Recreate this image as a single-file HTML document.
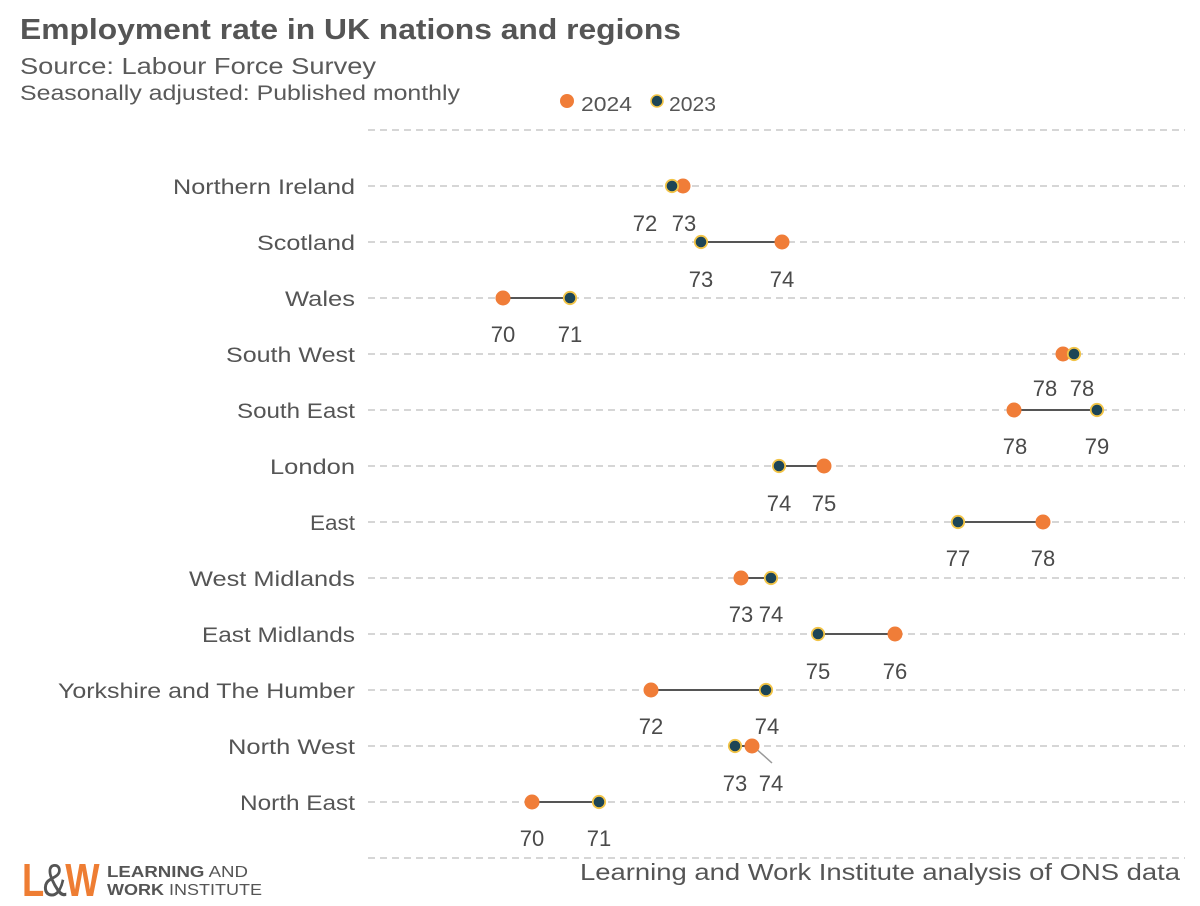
<!DOCTYPE html>
<html>
<head>
<meta charset="utf-8">
<style>
html,body{margin:0;padding:0;background:#fff;}
svg{display:block;}
text{font-family:"Liberation Sans",sans-serif;}
</style>
</head>
<body>
<svg width="1200" height="906" viewBox="0 0 1200 906" xmlns="http://www.w3.org/2000/svg">
<rect width="1200" height="906" fill="#fff"/>
<!-- Title -->
<text x="20" y="39" font-size="29" font-weight="bold" fill="#555" textLength="661" lengthAdjust="spacingAndGlyphs">Employment rate in UK nations and regions</text>
<text x="20" y="74" font-size="23" fill="#5a5a5a" textLength="356" lengthAdjust="spacingAndGlyphs">Source: Labour Force Survey</text>
<text x="20" y="100" font-size="21" fill="#5a5a5a" textLength="440" lengthAdjust="spacingAndGlyphs">Seasonally adjusted: Published monthly</text>
<!-- Legend -->
<circle cx="567" cy="101" r="7" fill="#F07D38"/>
<text x="581" y="111" font-size="20" fill="#555" textLength="51" lengthAdjust="spacingAndGlyphs">2024</text>
<circle cx="657" cy="101" r="6" fill="#1D4556" stroke="#F2C447" stroke-width="1.6"/>
<text x="669" y="111" font-size="20" fill="#555" textLength="47" lengthAdjust="spacingAndGlyphs">2023</text>
<!-- Gridlines -->
<g stroke="#c9c9c9" stroke-width="1.6" stroke-dasharray="7 5">
<line x1="368" y1="130" x2="1185" y2="130"/>
<line x1="368" y1="186" x2="1185" y2="186"/>
<line x1="368" y1="242" x2="1185" y2="242"/>
<line x1="368" y1="298" x2="1185" y2="298"/>
<line x1="368" y1="354" x2="1185" y2="354"/>
<line x1="368" y1="410" x2="1185" y2="410"/>
<line x1="368" y1="466" x2="1185" y2="466"/>
<line x1="368" y1="522" x2="1185" y2="522"/>
<line x1="368" y1="578" x2="1185" y2="578"/>
<line x1="368" y1="634" x2="1185" y2="634"/>
<line x1="368" y1="690" x2="1185" y2="690"/>
<line x1="368" y1="746" x2="1185" y2="746"/>
<line x1="368" y1="802" x2="1185" y2="802"/>
<line x1="368" y1="858" x2="1185" y2="858"/>
</g>
<!-- Category labels -->
<g font-size="21" fill="#555" text-anchor="end">
<text x="355" y="194" textLength="182" lengthAdjust="spacingAndGlyphs">Northern Ireland</text>
<text x="355" y="250" textLength="98" lengthAdjust="spacingAndGlyphs">Scotland</text>
<text x="355" y="306" textLength="70" lengthAdjust="spacingAndGlyphs">Wales</text>
<text x="355" y="362" textLength="129" lengthAdjust="spacingAndGlyphs">South West</text>
<text x="355" y="418" textLength="118" lengthAdjust="spacingAndGlyphs">South East</text>
<text x="355" y="474" textLength="85" lengthAdjust="spacingAndGlyphs">London</text>
<text x="355" y="530" textLength="45" lengthAdjust="spacingAndGlyphs">East</text>
<text x="355" y="586" textLength="166" lengthAdjust="spacingAndGlyphs">West Midlands</text>
<text x="355" y="642" textLength="153" lengthAdjust="spacingAndGlyphs">East Midlands</text>
<text x="355" y="698" textLength="297" lengthAdjust="spacingAndGlyphs">Yorkshire and The Humber</text>
<text x="355" y="754" textLength="127" lengthAdjust="spacingAndGlyphs">North West</text>
<text x="355" y="810" textLength="115" lengthAdjust="spacingAndGlyphs">North East</text>
</g>
<!-- Connectors -->
<g stroke="#555" stroke-width="2">
<line x1="672" y1="186" x2="683" y2="186"/>
<line x1="701" y1="242" x2="782" y2="242"/>
<line x1="503" y1="298" x2="570" y2="298"/>
<line x1="1063" y1="354" x2="1074" y2="354"/>
<line x1="1014" y1="410" x2="1097" y2="410"/>
<line x1="779" y1="466" x2="824" y2="466"/>
<line x1="958" y1="522" x2="1043" y2="522"/>
<line x1="741" y1="578" x2="771" y2="578"/>
<line x1="818" y1="634" x2="895" y2="634"/>
<line x1="651" y1="690" x2="766" y2="690"/>
<line x1="735" y1="746" x2="752" y2="746"/>
<line x1="532" y1="802" x2="599" y2="802"/>
</g>
<!-- leader line -->
<line x1="753" y1="746" x2="772" y2="763" stroke="#999" stroke-width="1.5"/>
<!-- 2024 dots -->
<g fill="#F07D38">
<circle cx="683" cy="186" r="7.5"/>
<circle cx="782" cy="242" r="7.5"/>
<circle cx="503" cy="298" r="7.5"/>
<circle cx="1063" cy="354" r="7.5"/>
<circle cx="1014" cy="410" r="7.5"/>
<circle cx="824" cy="466" r="7.5"/>
<circle cx="1043" cy="522" r="7.5"/>
<circle cx="741" cy="578" r="7.5"/>
<circle cx="895" cy="634" r="7.5"/>
<circle cx="651" cy="690" r="7.5"/>
<circle cx="532" cy="802" r="7.5"/>
</g>
<!-- 2023 dots -->
<g fill="#1D4556" stroke="#F2C447" stroke-width="1.8">
<circle cx="672" cy="186" r="6.2"/>
<circle cx="701" cy="242" r="6.2"/>
<circle cx="570" cy="298" r="6.2"/>
<circle cx="1074" cy="354" r="6.2"/>
<circle cx="1097" cy="410" r="6.2"/>
<circle cx="779" cy="466" r="6.2"/>
<circle cx="958" cy="522" r="6.2"/>
<circle cx="771" cy="578" r="6.2"/>
<circle cx="818" cy="634" r="6.2"/>
<circle cx="766" cy="690" r="6.2"/>
<circle cx="735" cy="746" r="6.2"/>
<circle cx="599" cy="802" r="6.2"/>
</g>
<circle cx="752" cy="746" r="7.5" fill="#F07D38"/>
<!-- Value labels -->
<g font-size="22" fill="#4a4a4a" text-anchor="middle">
<text x="645" y="231">72</text><text x="684" y="231">73</text>
<text x="701" y="287">73</text><text x="782" y="287">74</text>
<text x="503" y="342">70</text><text x="570" y="342">71</text>
<text x="1045" y="396">78</text><text x="1082" y="396">78</text>
<text x="1015" y="454">78</text><text x="1097" y="454">79</text>
<text x="779" y="511">74</text><text x="824" y="511">75</text>
<text x="958" y="566">77</text><text x="1043" y="566">78</text>
<text x="741" y="622">73</text><text x="771" y="622">74</text>
<text x="818" y="679">75</text><text x="895" y="679">76</text>
<text x="651" y="734">72</text><text x="767" y="734">74</text>
<text x="735" y="791">73</text><text x="771" y="791">74</text>
<text x="532" y="846">70</text><text x="599" y="846">71</text>
</g>
<!-- Footer -->
<text x="1180" y="880" font-size="23" fill="#555" text-anchor="end" textLength="600" lengthAdjust="spacingAndGlyphs">Learning and Work Institute analysis of ONS data</text>
<!-- Logo -->
<text x="22" y="896" font-size="46" font-weight="bold" textLength="76" lengthAdjust="spacingAndGlyphs" letter-spacing="-2"><tspan fill="#EE7D33">L</tspan><tspan fill="#555" font-weight="normal">&amp;</tspan><tspan fill="#EE7D33">W</tspan></text>
<text x="107" y="877" font-size="15.5" fill="#555" textLength="141" lengthAdjust="spacingAndGlyphs"><tspan font-weight="bold">LEARNING</tspan> AND</text>
<text x="107" y="895" font-size="15.5" fill="#555" textLength="155" lengthAdjust="spacingAndGlyphs"><tspan font-weight="bold">WORK</tspan> INSTITUTE</text>
</svg>
</body>
</html>
